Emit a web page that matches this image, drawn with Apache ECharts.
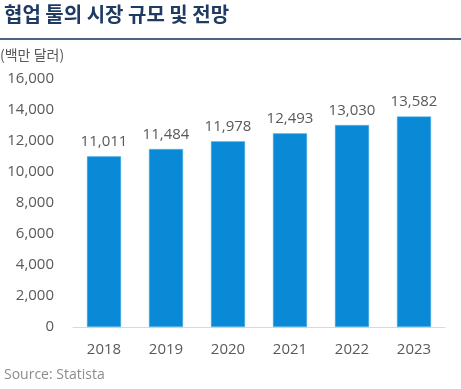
<!DOCTYPE html>
<html><head><meta charset="utf-8">
<script src="https://cdn.jsdelivr.net/npm/echarts@6/dist/echarts.min.js"></script>
<style>html,body{margin:0;padding:0;background:#fff}#c{width:461px;height:389px}</style>
</head><body><div id="c"></div>
<script>
const categories = ['2018', '2019', '2020', '2021', '2022', '2023'];
const values = [11011, 11484, 11978, 12493, 13030, 13582];
const titleText = '협업 툴의 시장 규모 및 전망';
const unitText = '(백만 달러)';
const sourceText = 'Source: Statista';

const chart = echarts.init(document.getElementById('c'), null, {renderer: 'canvas'});
const fontLatin = '"Open Sans", "Noto Sans", sans-serif';
chart.setOption({
  animation: false,
  backgroundColor: '#ffffff',
  graphic: [
    {type: 'text', left: 4, top: 4, style: {text: titleText, font: 'bold 20px "Noto Sans CJK KR"', fill: '#1f3b63'}},
    {type: 'rect', shape: {x: 0, y: 38, width: 461, height: 2}, style: {fill: '#4d6382'}},
    {type: 'text', left: 0, top: 48, style: {text: unitText, font: '14px "Noto Sans CJK KR"', fill: '#595959'}},
    {type: 'text', left: 4, top: 368, style: {text: sourceText, font: '14px ' + fontLatin, fill: '#8c8c8c'}}
  ],
  grid: {left: 73, right: 16, top: 79, bottom: 62, containLabel: false},
  xAxis: {
    type: 'category', data: categories,
    axisLine: {lineStyle: {color: '#d9d9d9', width: 1}},
    axisTick: {show: false},
    axisLabel: {color: '#595959', fontSize: 15, fontFamily: fontLatin, margin: 15}
  },
  yAxis: {
    type: 'value', min: 0, max: 16000, interval: 2000,
    axisLine: {show: false}, axisTick: {show: false},
    splitLine: {show: false},
    axisLabel: {color: '#595959', fontSize: 15, fontFamily: fontLatin, margin: 19,
      formatter: v => v.toLocaleString('en-US')}
  },
  series: [{
    type: 'bar', data: values, barWidth: '55%',
    itemStyle: {color: '#0a8ad6', borderColor: '#5fb6ea', borderWidth: 0.5},
    label: {show: true, position: 'top', distance: 7, color: '#595959', fontSize: 15, fontFamily: fontLatin,
      formatter: p => p.value.toLocaleString('en-US')}
  }]
});
</script></body></html>
